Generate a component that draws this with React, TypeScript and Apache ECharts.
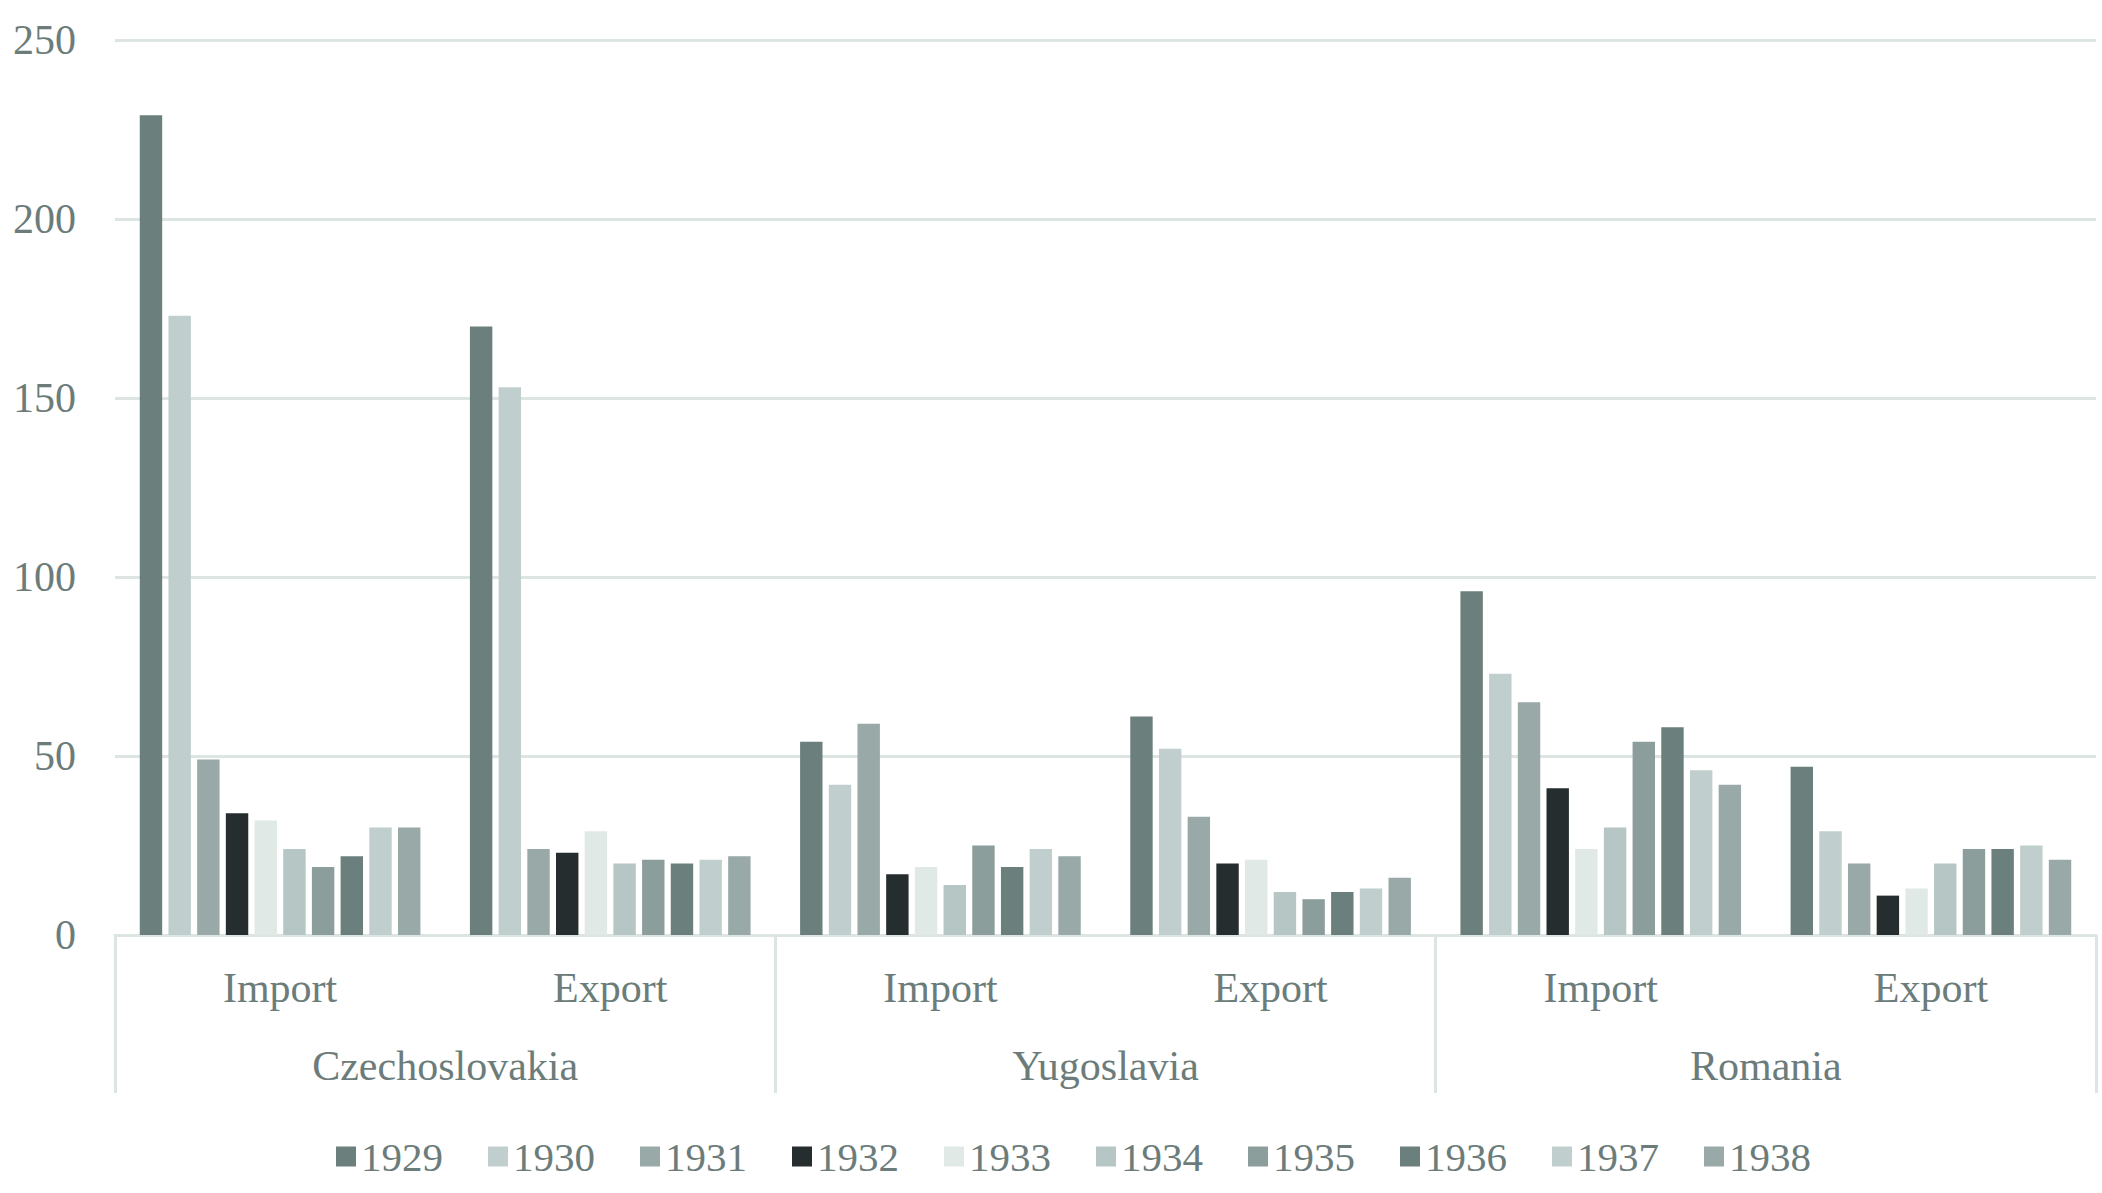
import React, { useEffect, useRef } from "react";
import * as echarts from "echarts";

const flows = ["Import", "Export", "Import", "Export", "Import", "Export"];
const countries = ["Czechoslovakia", "Yugoslavia", "Romania"];
const years = ["1929", "1930", "1931", "1932", "1933", "1934", "1935", "1936", "1937", "1938"];

// values per year: [CZ Import, CZ Export, YU Import, YU Export, RO Import, RO Export]
const v1929 = [229, 170, 54, 61, 96, 47];
const v1930 = [173, 153, 42, 52, 73, 29];
const v1931 = [49, 24, 59, 33, 65, 20];
const v1932 = [34, 23, 17, 20, 41, 11];
const v1933 = [32, 29, 19, 21, 24, 13];
const v1934 = [24, 20, 14, 12, 30, 20];
const v1935 = [19, 21, 25, 10, 54, 24];
const v1936 = [22, 20, 19, 12, 58, 24];
const v1937 = [30, 21, 24, 13, 46, 25];
const v1938 = [30, 22, 22, 16, 42, 21];
const values = [v1929, v1930, v1931, v1932, v1933, v1934, v1935, v1936, v1937, v1938];

const colors = [
  "#6b7f7c", "#c0cfcd", "#99a9a8", "#252d2f", "#e1e9e6",
  "#b6c6c4", "#8c9e9b", "#6b7f7c", "#c0cfcd", "#99a9a8",
];
const yTicks = [0, 50, 100, 150, 200, 250];

const FONT = "Liberation Serif";
const TXT = "#6b7c7a";
const LINE = "#dde5e2";

export default function App() {
  const ref = useRef<HTMLDivElement>(null);
  useEffect(() => {
    document.body.style.margin = "0";
    const chart = echarts.init(ref.current!, undefined, { renderer: "svg" });
    chart.setOption({
      animation: false,
      backgroundColor: "#ffffff",
      textStyle: { fontFamily: FONT },
      grid: { left: 115, right: 6, top: 40, bottom: 258, containLabel: false },
      legend: {
        data: years,
        left: 331,
        top: 1131,
        icon: "rect",
        itemWidth: 20,
        itemHeight: 20,
        itemGap: 45,
        textStyle: { fontFamily: FONT, fontSize: 41, color: TXT },
      },
      xAxis: [
        {
          type: "category",
          data: flows,
          position: "bottom",
          axisLine: { show: true, onZero: false, lineStyle: { color: LINE, width: 3 } },
          axisTick: { show: false },
          axisLabel: { margin: 32, fontFamily: FONT, fontSize: 42, color: TXT },
        },
        {
          type: "category",
          data: countries,
          position: "bottom",
          axisLine: { show: false, onZero: false },
          axisTick: { show: true, length: 158, lineStyle: { color: LINE, width: 3 } },
          axisLabel: { margin: 110, fontFamily: FONT, fontSize: 42, color: TXT },
        },
      ],
      yAxis: {
        type: "value",
        min: yTicks[0],
        max: yTicks[yTicks.length - 1],
        interval: 50,
        axisLine: { show: false },
        axisTick: { show: false },
        axisLabel: { margin: 39, fontFamily: FONT, fontSize: 42, color: TXT },
        splitLine: { show: true, lineStyle: { color: LINE, width: 3 } },
      },
      series: years.map((y, i) => ({
        name: y,
        type: "bar",
        xAxisIndex: 0,
        data: values[i],
        barGap: "28%",
        barCategoryGap: "15%",
        itemStyle: { color: colors[i] },
      })),
    });
    return () => chart.dispose();
  }, []);
  return <div ref={ref} style={{ width: 2102, height: 1193 }} />;
}
